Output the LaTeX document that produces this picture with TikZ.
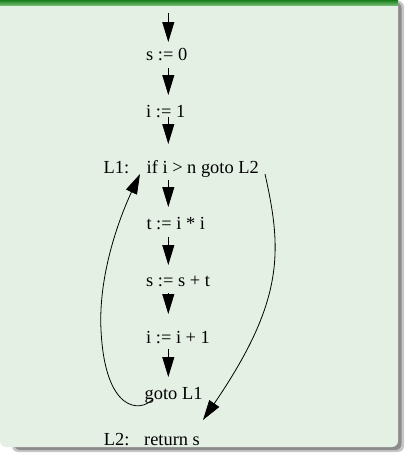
\documentclass[tikz,border=0pt]{standalone}
\usepackage{fontspec}
\setmainfont{Liberation Serif}
\usetikzlibrary{arrows.meta,calc}
\definecolor{bodycol}{RGB}{229,240,229}
\definecolor{bandtop}{RGB}{25,125,25}
\definecolor{bandbot}{RGB}{110,185,110}
\begin{document}
\begin{tikzpicture}[x=1pt,y=-1pt,
  stmt/.style={anchor=base west, inner sep=0pt, font=\fontsize{18.4}{22}\selectfont},
  arr/.style={-{Triangle[length=20pt,width=12pt]}, line width=0.8pt},
  flow/.style={-{Triangle[length=20pt,width=12pt]}, line width=0.8pt}]
\useasboundingbox (0,0) rectangle (405,453);
% shadow
\fill[black!22, rounded corners=6pt] (12,1) rectangle (404,452);
\fill[black!45, rounded corners=6pt] (14,2) rectangle (401.5,450);
% body
\fill[bodycol] (0,0) [rounded corners=6pt] -- (0,447) -- (398,447) [sharp corners] -- (398,0) -- cycle;
\shade[top color=bandtop, bottom color=bandbot] (0,0) rectangle (398,5);
% statements
\node[stmt] (s0) at (146,60) {s := 0};
\node[stmt] (i1) at (146,117) {i := 1};
\node[stmt] (l1lab) at (103.5,173) {L1:};
\node[stmt] (l1) at (146.5,173) {if i > n goto L2};
\node[stmt] (t) at (146.3,229) {t := i * i};
\node[stmt] (s1) at (146,286) {s := s + t};
\node[stmt] (i2) at (146,343) {i := i + 1};
\node[stmt] (g) at (144.5,399) {goto L1};
\node[stmt] (l2lab) at (103.7,445) {L2:};
\node[stmt] (r) at (144,445) {return s};
\coordinate (col) at (168.3,0);
\coordinate (top) at (168.3,13);
% straight connectors
\draw[arr] (top) -- ($(s0.base -| col)+(0,-18)$);
\draw[arr] ($(s0.base -| col)+(0,8)$) -- ($(i1.base -| col)+(0,-22)$);
\draw[arr] ($(i1.base -| col)+(0,0)$) -- ($(l1.base -| col)+(0,-29)$);
\draw[arr] ($(l1.base -| col)+(0,7)$) -- ($(t.base -| col)+(0,-22)$);
\draw[arr] ($(t.base -| col)+(0,8)$) -- ($(s1.base -| col)+(0,-21)$);
\draw[arr] ($(s1.base -| col)+(0,7)$) -- ($(i2.base -| col)+(0,-29)$);
\draw[arr] ($(i2.base -| col)+(0,6)$) -- ($(g.base -| col)+(0,-22)$);
% back edge goto L1 -> L1
\coordinate (gs) at ($(g.base west)+(8.5,0)$);
\coordinate (l1in) at ($(l1.base west)+(-6.5,1)$);
\draw[flow] (gs) .. controls (140,413) and (105,412) .. (101,330)
  .. controls (98,270) and (123,210) .. (l1in);
% exit edge L1 -> L2
\coordinate (l1out) at ($(l1.base west)+(118.5,1)$);
\coordinate (rin) at ($(r.base west)+(59,-25)$);
\draw[flow] (l1out) .. controls (282,250) and (285,300) .. (rin);
\end{tikzpicture}
\end{document}
